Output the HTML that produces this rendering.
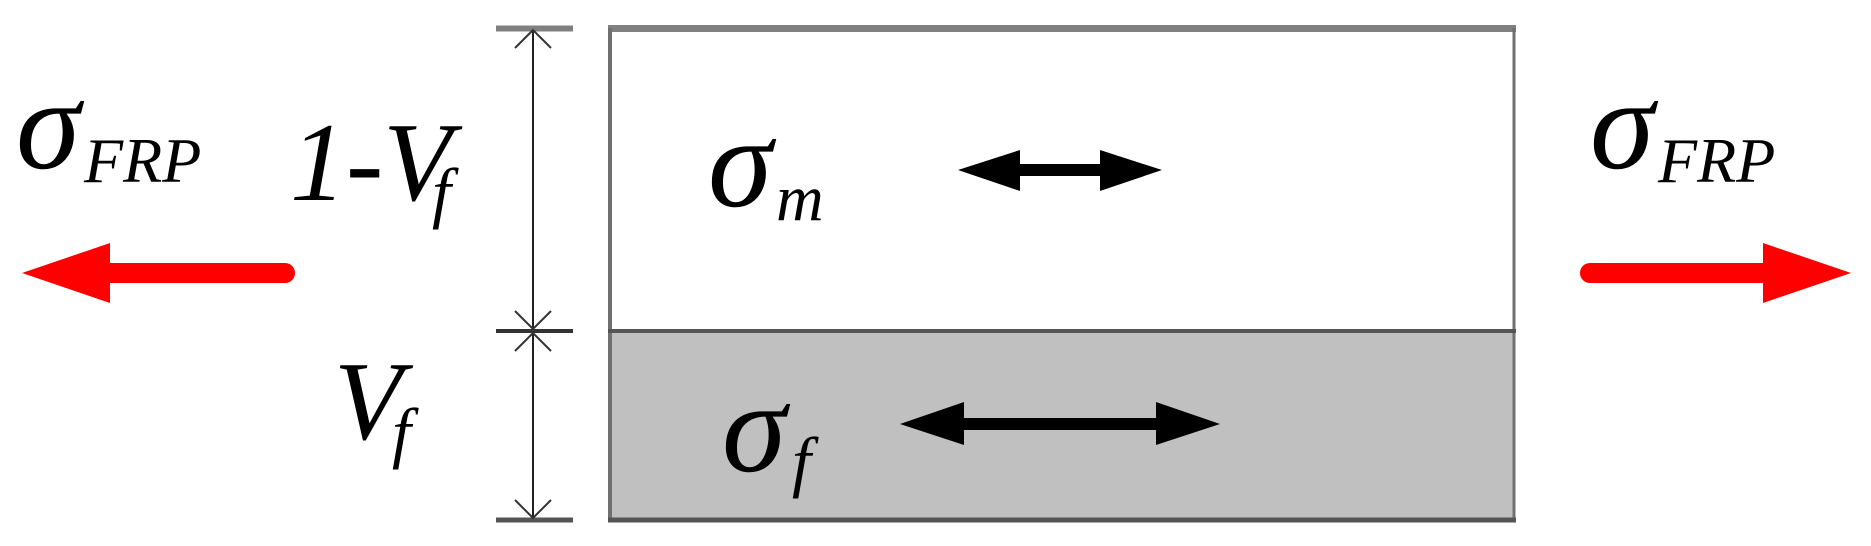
<!DOCTYPE html>
<html><head><meta charset="utf-8"><style>
html,body{margin:0;padding:0;background:#fff;}
svg{display:block;}
text{font-family:"Liberation Serif",serif;font-style:italic;fill:#000;}
</style></head><body>
<svg width="1871" height="546" viewBox="0 0 1871 546" xmlns="http://www.w3.org/2000/svg">
<!-- rectangle -->
<rect x="610" y="331" width="904" height="189" fill="#c0c0c0"/>
<line x1="608" y1="28.5" x2="1516" y2="28.5" stroke="#808080" stroke-width="7"/>
<line x1="610" y1="28" x2="610" y2="521" stroke="#707070" stroke-width="4"/>
<line x1="1514" y1="28" x2="1514" y2="521" stroke="#707070" stroke-width="3"/>
<line x1="608" y1="331" x2="1516" y2="331" stroke="#555" stroke-width="4"/>
<line x1="608" y1="520" x2="1516" y2="520" stroke="#555" stroke-width="5"/>
<!-- dimension line -->
<line x1="533" y1="28" x2="533" y2="520" stroke="#222" stroke-width="2"/>
<line x1="496" y1="28.5" x2="573" y2="28.5" stroke="#808080" stroke-width="6"/>
<line x1="496" y1="331" x2="573" y2="331" stroke="#333" stroke-width="4"/>
<line x1="496" y1="520" x2="573" y2="520" stroke="#555" stroke-width="5"/>
<g fill="none" stroke="#333" stroke-width="2">
<polyline points="515,48 533,30 551,48"/>
<polyline points="515,311 533,329 551,311"/>
<polyline points="515,351 533,333 551,351"/>
<polyline points="515,500 533,518 551,500"/>
</g>
<!-- red arrows -->
<line x1="102" y1="273" x2="285" y2="273" stroke="#f00" stroke-width="20" stroke-linecap="round"/>
<polygon points="22,273 110,243 110,303" fill="#f00"/>
<line x1="1590" y1="273" x2="1770" y2="273" stroke="#f00" stroke-width="20" stroke-linecap="round"/>
<polygon points="1851,273 1763,243 1763,303" fill="#f00"/>
<!-- black arrows -->
<line x1="1004" y1="170" x2="1114" y2="170" stroke="#000" stroke-width="12"/>
<polygon points="958,170 1020,150 1020,191" fill="#000"/>
<polygon points="1162,170 1100,150 1100,191" fill="#000"/>
<line x1="944" y1="424" x2="1174" y2="424" stroke="#000" stroke-width="12"/>
<polygon points="900,424 964,402 964,445" fill="#000"/>
<polygon points="1220,424 1156,402 1156,445" fill="#000"/>
<!-- labels -->
<text x="16" y="168" font-size="130">σ</text>
<text x="84" y="182" font-size="64">FRP</text>
<text x="1590" y="168" font-size="130">σ</text>
<text x="1658" y="182" font-size="64">FRP</text>
<text x="290" y="200" font-size="112">1-V</text>
<text x="432" y="215" font-size="68">f</text>
<text x="334" y="439" font-size="112">V</text>
<text x="392" y="455" font-size="68">f</text>
<text x="708" y="206" font-size="130">σ</text>
<text x="776" y="220" font-size="66">m</text>
<text x="722" y="471" font-size="130">σ</text>
<text x="792" y="484" font-size="68">f</text>
</svg>
</body></html>
